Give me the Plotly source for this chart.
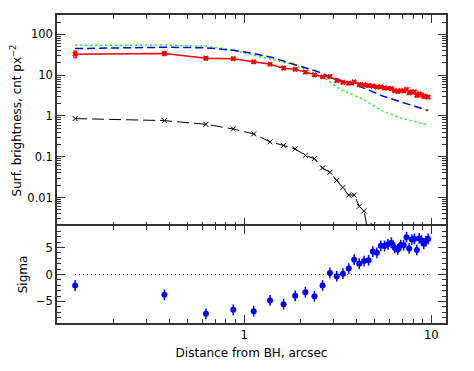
import plotly.graph_objects as go

# ---- data ----
radius = [0.125, 0.375, 0.625, 0.875, 1.125, 1.375, 1.625, 1.875, 2.125, 2.375,
          2.625, 2.875, 3.125, 3.375, 3.625, 3.875, 4.125, 4.375, 4.625, 4.875,
          5.125, 5.375, 5.625, 5.875, 6.125, 6.375, 6.625, 6.875, 7.125, 7.375,
          7.625, 7.875, 8.125, 8.375, 8.625, 8.875, 9.125, 9.375, 9.625]

surf_data = [32.8, 34.1, 26.2, 25.3, 21.3, 18.6, 14.9, 14.0, 11.9, 10.2,
             9.14, 9.3, 7.41, 6.73, 6.4, 6.9, 5.9, 5.8, 5.6, 5.4,
             5.1, 5.2, 4.9, 4.8, 4.7, 4.2, 4.0, 4.2, 4.1, 4.5,
             3.7, 3.9, 3.9, 3.2, 3.5, 3.3, 3.0, 3.0, 2.9]

surf_err = [6.0, 4.0, 2.5, 2.0, 1.6, 1.3, 1.1, 1.0, 0.9, 0.8,
            0.7, 0.65, 0.6, 0.55, 0.5, 0.5, 0.45, 0.45, 0.4, 0.4,
            0.38, 0.36, 0.35, 0.34, 0.33, 0.32, 0.31, 0.30, 0.30, 0.29,
            0.28, 0.27, 0.27, 0.26, 0.26, 0.25, 0.25, 0.24, 0.24]

model_blue_x = [0.125, 0.375, 0.625, 0.875, 1.125, 1.43, 1.91, 2.44, 2.88, 3.39,
                4.34, 5.54, 7.1, 9.63]
model_blue_y = [45.0, 48.5, 47.0, 41.0, 34.0, 26.7, 17.6, 12.5, 9.1, 7.1,
                4.9, 3.05, 2.09, 1.36]

model_green_x = [0.125, 0.375, 0.625, 0.875, 1.22, 1.83, 2.35, 2.76, 3.26, 4.34,
                 5.3, 6.8, 9.63]
model_green_y = [54.0, 55.0, 51.6, 41.0, 28.3, 18.3, 11.5, 7.8, 4.5, 2.53,
                 1.44, 0.9, 0.6]

black_x = [0.125, 0.375, 0.625, 0.875, 1.125, 1.375, 1.625, 1.875, 2.125, 2.375,
           2.625, 2.875, 3.125, 3.375, 3.625, 3.875, 4.125, 4.375, 4.625, 4.875]
black_y = [0.863, 0.77, 0.625, 0.48, 0.363, 0.231, 0.19, 0.156, 0.108, 0.0897,
           0.053, 0.0414, 0.0263, 0.0177, 0.0115, 0.0115, 0.00607, 0.00468, 0.0012, 0.0021]

sigma = [-2.04, -3.78, -7.30, -6.56, -6.80, -4.81, -5.50, -3.96, -3.28, -4.02,
         -2.04, 0.30, -0.31, 0.15, 1.11, 2.74, 2.0, 2.5, 2.65, 4.25,
         4.03, 5.33, 5.3, 5.6, 5.9, 4.95, 4.66, 5.46, 5.43, 6.93,
         4.84, 6.48, 6.6, 4.56, 6.7, 6.3, 5.7, 6.2, 6.6]
sigma_err = [1.0] * len(sigma)

zero_x = [radius[0], radius[-1]]
zero_y = [0, 0]

ytop_tickvals = [0.01, 0.1, 1, 10, 100]
ytop_ticktext = ["0.01", "0.1", "1", "10", "100"]
ybot_tickvals = [-5, 0, 5]
ybot_ticktext = ["\u22125", "0", "5"]
x_tickvals = [1, 10]
x_ticktext = ["1", "10"]

# minor tick positions
x_minor = [0.2, 0.3, 0.4, 0.5, 0.6, 0.7, 0.8, 0.9, 2, 3, 4, 5, 6, 7, 8, 9]
ytop_minor = [0.003, 0.004, 0.005, 0.006, 0.007, 0.008, 0.009,
              0.02, 0.03, 0.04, 0.05, 0.06, 0.07, 0.08, 0.09,
              0.2, 0.3, 0.4, 0.5, 0.6, 0.7, 0.8, 0.9,
              2, 3, 4, 5, 6, 7, 8, 9,
              20, 30, 40, 50, 60, 70, 80, 90, 200]
ybot_minor = [-8, -7, -6, -4, -3, -2, -1, 1, 2, 3, 4, 6, 7, 8]

# ---- figure ----
fig = go.Figure()

fig.add_trace(go.Scatter(x=model_green_x, y=model_green_y, mode="lines", xaxis="x2", yaxis="y2",
                         line=dict(color="#00ff00", width=1.5, dash="2px,3px")))
fig.add_trace(go.Scatter(x=model_blue_x, y=model_blue_y, mode="lines", xaxis="x2", yaxis="y2",
                         line=dict(color="#0000ff", width=1.5, dash="8px,4px")))
fig.add_trace(go.Scatter(x=radius, y=surf_data, mode="lines+markers", xaxis="x2", yaxis="y2",
                         line=dict(color="#ff0000", width=1.5),
                         marker=dict(symbol="x", size=5, color="#ff0000"),
                         error_y=dict(type="data", array=surf_err, color="#ff0000",
                                      thickness=1.2, width=2)))
fig.add_trace(go.Scatter(x=black_x, y=black_y, mode="lines+markers", xaxis="x3", yaxis="y2",
                         line=dict(color="black", width=1, dash="12px,5px"),
                         marker=dict(symbol="x-thin", size=5,
                                     line=dict(color="black", width=1), color="black")))

fig.add_trace(go.Scatter(x=zero_x, y=zero_y, mode="lines", xaxis="x", yaxis="y",
                         line=dict(color="black", width=1, dash="1px,3px")))
fig.add_trace(go.Scatter(x=radius, y=sigma, mode="markers", xaxis="x", yaxis="y",
                         marker=dict(symbol="circle", size=6, color="#0000ff"),
                         error_y=dict(type="data", array=sigma_err, color="#0000ff",
                                      thickness=1.5, width=0)))

font = dict(family="DejaVu Sans", size=12, color="black")
tickfont = dict(family="DejaVu Sans", size=11.5, color="black")
base = dict(ticks="inside", ticklen=8, tickwidth=1, tickcolor="#333333",
            showgrid=False, zeroline=False, tickfont=tickfont, automargin=False)
line = dict(showline=True, linecolor="#333333", linewidth=1.5)


def minor(vals):
    return dict(ticks="inside", ticklen=4, tickmode="array", tickvals=vals,
                tickcolor="#333333", tickwidth=1, showgrid=False)


split = 97 / 308

fig.update_layout(
    width=466, height=363, showlegend=False,
    margin=dict(l=49, r=28, t=7, b=48),
    plot_bgcolor="white", paper_bgcolor="white", font=font,
    # bottom panel x axis (labels), its mirror is the panel boundary line
    xaxis=dict(type="log", range=[-1, 1.079], domain=[0, 1], anchor="y", mirror="ticks",
               tickmode="array", tickvals=x_tickvals, ticktext=x_ticktext, minor=minor(x_minor),
               title=dict(text="Distance from BH, arcsec", font=font, standoff=8), **base, **line),
    yaxis=dict(range=[-9, 9], domain=[0, split], anchor="x", mirror="ticks",
               tickmode="array", tickvals=ybot_tickvals, ticktext=ybot_ticktext,
               minor=minor(ybot_minor),
               title=dict(text="Sigma", font=font, standoff=6), **base, **line),
    # top panel: frame top line with ticks
    xaxis2=dict(type="log", range=[-1, 1.079], domain=[0, 1], anchor="y2", side="top",
                tickmode="array", tickvals=x_tickvals, showticklabels=False,
                minor=minor(x_minor), **base, **line),
    # top panel: ticks at the boundary, no line
    xaxis3=dict(type="log", range=[-1, 1.079], domain=[0, 1], anchor="y2", side="bottom",
                overlaying="x2", showline=False,
                tickmode="array", tickvals=x_tickvals, showticklabels=False,
                minor=minor(x_minor), **base),
    yaxis2=dict(type="log", range=[-2.699, 2.477], domain=[split, 1], anchor="x2", mirror="ticks",
                tickmode="array", tickvals=ytop_tickvals, ticktext=ytop_ticktext,
                minor=minor(ytop_minor),
                title=dict(text="Surf. brightness, cnt px<sup>\u22122</sup>", font=font, standoff=6),
                **base, **line),
)

fig.write_html("out.html")
